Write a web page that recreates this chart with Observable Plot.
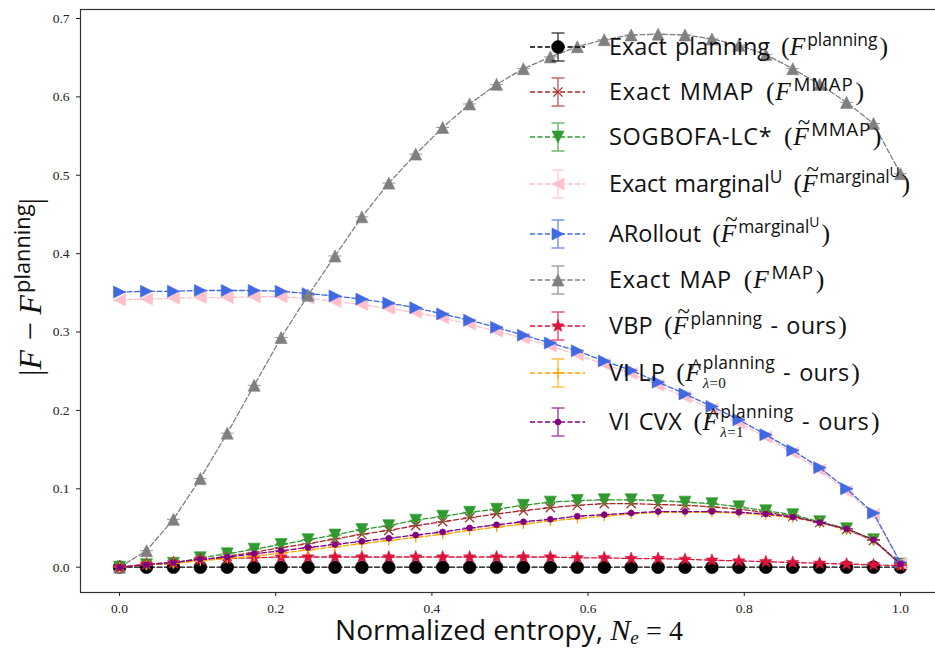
<!DOCTYPE html>
<html><head><meta charset="utf-8">
<script src="https://cdn.jsdelivr.net/npm/d3@7"></script>
<script src="https://cdn.jsdelivr.net/npm/@observablehq/plot@0.6"></script>
<style>
body{margin:0;background:#fff;}
#wrap{position:relative;width:935px;height:648px;overflow:hidden;font-family:"Open Sans",Lato,sans-serif;color:#111;}
#wrap svg.plot{position:absolute;left:0;top:0;}
.row{position:absolute;left:527px;display:flex;align-items:center;transform:translateY(-50%);white-space:nowrap;}
.row svg{flex:none;}
.lt{margin-left:22px;font-size:23.5px;line-height:1;word-spacing:2px;}
.m{font-family:"Liberation Serif",serif;font-size:1.1em;}
.po{margin-left:3px;}
.pc{margin-left:2px;}
.F{font-family:"Liberation Serif",serif;font-style:italic;position:relative;display:inline-block;font-size:1.08em;margin-right:2px;}
.acc{position:absolute;left:0.2em;top:-0.55em;font-style:normal;font-size:0.9em;}
.hat{position:absolute;left:0.24em;top:-0.16em;font-style:normal;font-size:0.9em;}
sup{font-size:0.74em;vertical-align:0.5em;line-height:0;}
sup.c{font-size:0.8em;}
sup sup{font-size:0.8em;vertical-align:0.45em;}
.ss{position:relative;display:inline-block;line-height:1;}
.ss .a{font-size:0.74em;position:relative;top:-0.68em;}
.ss .b{position:absolute;left:0;top:1.0em;font-size:0.64em;font-family:"Liberation Serif",serif;}
.lab{position:absolute;white-space:nowrap;font-size:28px;line-height:1;}
</style></head><body><div id="wrap"></div>
<script>
// ---- data ----
const entropy = [0,0.0345,0.069,0.1034,0.1379,0.1724,0.2069,0.2414,0.2759,0.3103,0.3448,0.3793,0.4138,0.4483,0.4828,0.5172,0.5517,0.5862,0.6207,0.6552,0.6897,0.7241,0.7586,0.7931,0.8276,0.8621,0.8966,0.931,0.9655,1.0];
const exactPlanning = [0,0,0,0,0,0,0,0,0,0,0,0,0,0,0,0,0,0,0,0,0,0,0,0,0,0,0,0,0,0];
const exactMMAP = [0,0.003,0.005,0.009,0.014,0.019,0.025,0.030,0.036,0.042,0.047,0.053,0.058,0.063,0.068,0.072,0.076,0.079,0.081,0.081,0.080,0.079,0.077,0.074,0.070,0.065,0.057,0.048,0.034,0.004];
const sogbofa = [0,0.003,0.005,0.012,0.017,0.023,0.029,0.035,0.041,0.048,0.053,0.060,0.065,0.070,0.074,0.079,0.083,0.085,0.086,0.086,0.085,0.083,0.081,0.077,0.072,0.067,0.058,0.049,0.035,0.004];
const exactMarginal = [0.341,0.342,0.343,0.344,0.344,0.345,0.345,0.343,0.339,0.335,0.330,0.325,0.318,0.310,0.301,0.292,0.282,0.271,0.259,0.247,0.232,0.217,0.201,0.184,0.166,0.146,0.124,0.097,0.067,0.005];
const aRollout = [0.351,0.352,0.352,0.353,0.353,0.353,0.352,0.349,0.346,0.342,0.337,0.331,0.323,0.315,0.306,0.296,0.286,0.276,0.263,0.251,0.236,0.221,0.205,0.188,0.169,0.149,0.127,0.100,0.069,0.006];
const exactMAP = [0,0.021,0.061,0.113,0.171,0.232,0.293,0.347,0.397,0.447,0.490,0.527,0.561,0.591,0.616,0.636,0.651,0.664,0.673,0.679,0.680,0.679,0.674,0.666,0.654,0.636,0.616,0.593,0.566,0.502];
const vbp = [0,0.004,0.006,0.010,0.011,0.012,0.013,0.013,0.013,0.013,0.013,0.013,0.013,0.013,0.013,0.013,0.013,0.012,0.012,0.011,0.011,0.010,0.009,0.008,0.007,0.006,0.005,0.004,0.003,0.002];
const viLP = [0,0.003,0.005,0.008,0.011,0.014,0.018,0.022,0.026,0.030,0.034,0.038,0.042,0.047,0.051,0.055,0.059,0.062,0.065,0.068,0.070,0.070,0.070,0.069,0.067,0.063,0.057,0.048,0.035,0.004];
const viCVX = [0,0.003,0.006,0.010,0.013,0.017,0.021,0.025,0.029,0.033,0.037,0.041,0.045,0.050,0.054,0.058,0.061,0.065,0.067,0.069,0.071,0.071,0.071,0.070,0.068,0.064,0.057,0.049,0.035,0.004];
const xTicks = [0,0.2,0.4,0.6,0.8,1.0];
const yTicks = [0,0.1,0.2,0.3,0.4,0.5,0.6,0.7];
const seriesNames = ["Exact planning","Exact MMAP","SOGBOFA-LC*","Exact marginal","ARollout","Exact MAP","VBP","VI LP","VI CVX"];
const seriesValues = [exactPlanning, exactMMAP, sogbofa, exactMarginal, aRollout, exactMAP, vbp, viLP, viCVX];
const seriesColors = ["#000000","#a52a2a","#2f9a2f","#ffc0cb","#4169e1","#808080","#dc143c","#ffa500","#800080"];

// ---- marker shapes ----
function poly(pts){return {draw(ctx,size){const r=Math.sqrt(size/Math.PI);ctx.moveTo(pts[0][0]*r,pts[0][1]*r);for(let k=1;k<pts.length;k++)ctx.lineTo(pts[k][0]*r,pts[k][1]*r);ctx.closePath();}};}
const triUp = poly([[0,-1],[-1,1],[1,1]]);
const triDown = poly([[0,1],[-1,-1],[1,-1]]);
const triLeft = poly([[-1,0],[1,-1],[1,1]]);
const triRight = poly([[1,0],[-1,-1],[-1,1]]);
const starPts = d3.range(10).map(k=>{const a=-Math.PI/2+k*Math.PI/5;const rr=k%2?0.42:1;return [rr*Math.cos(a),rr*Math.sin(a)];});
const star = poly(starPts);
const cross = {draw(ctx,size){const r=Math.sqrt(size/Math.PI);ctx.moveTo(-r,-r);ctx.lineTo(r,r);ctx.moveTo(-r,r);ctx.lineTo(r,-r);}};
const plus = {draw(ctx,size){const r=Math.sqrt(size/Math.PI);ctx.moveTo(-r,0);ctx.lineTo(r,0);ctx.moveTo(0,-r);ctx.lineTo(0,r);}};
const hcap = {draw(ctx,size){const r=Math.sqrt(size/Math.PI);ctx.moveTo(-r,0);ctx.lineTo(r,0);}};
const circle = {draw(ctx,size){const r=Math.sqrt(size/Math.PI);ctx.moveTo(r,0);ctx.arc(0,0,r,0,2*Math.PI);}};

const style = [
  {sym:circle,r:6.4,filled:true},
  {sym:cross,r:4.6,filled:false},
  {sym:triDown,r:6,filled:true},
  {sym:triLeft,r:6,filled:true},
  {sym:triRight,r:6,filled:true},
  {sym:triUp,r:6,filled:true},
  {sym:star,r:6.5,filled:true},
  {sym:plus,r:5,filled:false},
  {sym:circle,r:3,filled:true}
];

const marks = [];
seriesValues.forEach((vals,si)=>{
  const data = vals.map((v,i)=>({x:entropy[i],y:v}));
  const c = seriesColors[si], st = style[si];
  marks.push(Plot.line(data,{x:"x",y:"y",stroke:c,strokeWidth:1.3,strokeDasharray:"5,2.5"}));
  marks.push(Plot.dot(data,{x:"x",y:"y",symbol:st.sym,r:st.r,fill:st.filled?c:"none",stroke:c,strokeWidth:st.filled?0.6:1.3}));
  marks.push(Plot.dot(data,{x:"x",y:"y",symbol:hcap,r:6.5,fill:"none",stroke:c,strokeWidth:1,strokeOpacity:0.8}));
});

const chart = Plot.plot({
  width:935,height:648,
  marginLeft:80,marginRight:-4,marginTop:9,marginBottom:56,
  style:{fontFamily:"Liberation Serif, serif",fontSize:"13.5px",color:"#222",background:"transparent"},
  x:{domain:[-0.05,1.05]},
  y:{domain:[-0.0323,0.7115]},
  marks:[
    ...marks,
    Plot.frame({stroke:"#333",strokeWidth:1.2}),
    Plot.axisX({ticks:xTicks,tickFormat:d=>d.toFixed(1),tickSize:4,tickPadding:7,label:null}),
    Plot.axisY({ticks:yTicks,tickFormat:d=>d.toFixed(1),tickSize:4,tickPadding:7,label:null})
  ]
});
chart.classList.add("plot");
const wrap = document.getElementById("wrap");
wrap.appendChild(chart);

// ---- legend ----
const Fp = '<span class="F">F</span>';
const Ft = '<span class="F">F<span class="acc">~</span></span>';
const Fh = '<span class="F">F<span class="hat">^</span></span>';
const O = '<span class="m po">(</span>', C = '<span class="m pc">)</span>';
const legendTexts = [
  `Exact planning ${O}${Fp}<sup>planning</sup>${C}`,
  `Exact MMAP ${O}${Fp}<sup class="c">MMAP</sup>${C}`,
  `SOGBOFA-LC* ${O}${Ft}<sup class="c">MMAP</sup>${C}`,
  `Exact marginal<sup>U</sup> ${O}${Ft}<sup>marginal<sup>U</sup></sup>${C}`,
  `ARollout ${O}${Ft}<sup>marginal<sup>U</sup></sup>${C}`,
  `Exact MAP ${O}${Fp}<sup class="c">MAP</sup>${C}`,
  `VBP ${O}${Ft}<sup>planning</sup> - ours${C}`,
  `VI LP ${O}${Fh}<span class="ss"><span class="a">planning</span><span class="b"><i>λ</i>=0</span></span> - ours${C}`,
  `VI CVX ${O}${Fh}<span class="ss"><span class="a">planning</span><span class="b"><i>λ</i>=1</span></span> - ours${C}`
];
const legendY = [47,92,137,184,234,280,326,373,422];
const legendRight = [888,865,882,910,830,825,847,860,880];
function markerPath(st){
  const r=st.r;const p=d3.path();st.sym.draw(p,r*r*Math.PI);return p.toString();
}
const lts = [];
legendTexts.forEach((t,i)=>{
  const c=seriesColors[i], st=style[i];
  const row=document.createElement("div");
  row.className="row";row.style.top=legendY[i]+"px";
  const mp=markerPath(st);
  row.innerHTML=`<svg width="60" height="32" viewBox="0 0 60 32">
   <line x1="3" x2="58" y1="16" y2="16" stroke="${c}" stroke-width="1.3" stroke-dasharray="5,2.5"/>
   <g stroke="${c}" stroke-width="1.3" opacity="0.8"><line x1="31" x2="31" y1="2" y2="30"/><line x1="24.5" x2="37.5" y1="2" y2="2"/><line x1="24.5" x2="37.5" y1="30" y2="30"/></g>
   <path transform="translate(31,16)" d="${mp}" fill="${st.filled?c:'none'}" stroke="${c}" stroke-width="${st.filled?0.6:1.3}"/>
  </svg><span class="lt">${t}</span>`;
  wrap.appendChild(row);
  lts.push(row.querySelector(".lt"));
});
function fitLegend(){
  const x0 = wrap.getBoundingClientRect().left;
  lts.forEach((lt,i)=>{
    lt.style.letterSpacing="0px";
    const r0 = lt.getBoundingClientRect().right - x0;
    lt.style.letterSpacing="1px";
    const r1 = lt.getBoundingClientRect().right - x0;
    const k = Math.max(1, r1 - r0);
    const ls = Math.max(-1.2, Math.min(1.2, (legendRight[i] - r0)/k));
    lt.style.letterSpacing = ls.toFixed(2)+"px";
  });
}
fitLegend();
if (document.fonts && document.fonts.ready) document.fonts.ready.then(fitLegend);

// ---- axis labels ----
const xl=document.createElement("div");xl.className="lab";
xl.style.left="509px";xl.style.top="630px";xl.style.transform="translate(-50%,-50%)";
xl.innerHTML='Normalized entropy, <span class="F" style="margin-right:0">N</span><sub style="font-size:0.68em;font-family:\'Liberation Serif\',serif;font-style:italic;vertical-align:-0.2em;line-height:0">e</sub> <span class="m" style="font-size:1em">= 4</span>';
wrap.appendChild(xl);
const yl=document.createElement("div");yl.className="lab";
yl.style.left="30px";yl.style.top="287px";yl.style.fontSize="29.5px";yl.style.transform="translate(-50%,-50%) rotate(-90deg)";
yl.innerHTML='<span class="m">|</span><span class="F">F</span> <span class="m">−</span> <span class="F">F</span><sup>planning</sup><span class="m">|</span>';
wrap.appendChild(yl);
</script></body></html>
